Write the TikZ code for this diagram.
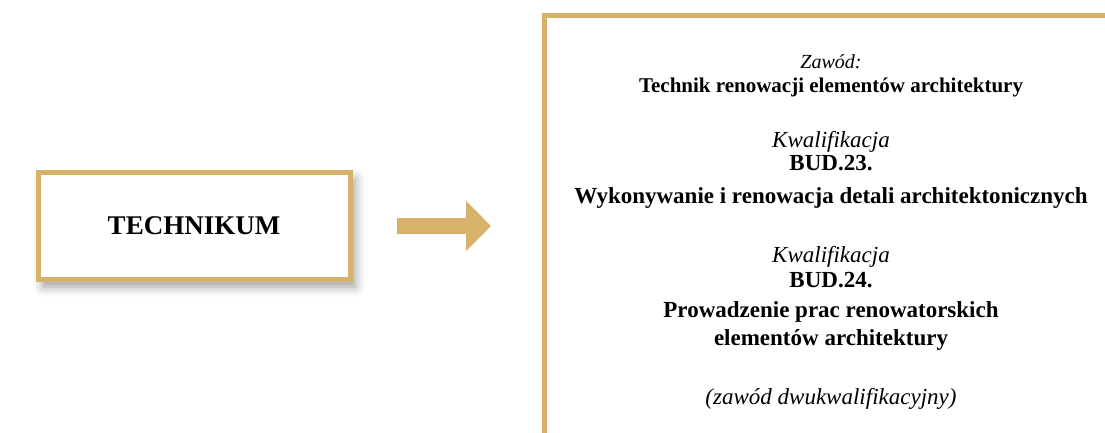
\documentclass[tikz,border=0pt]{standalone}
\usepackage{fontspec}
\setmainfont{Liberation Serif}
\usetikzlibrary{positioning,arrows.meta,shadows.blur}
\definecolor{zloty}{RGB}{214,178,106}
\tikzset{%
  ramka/.style={draw=zloty, line width=5pt},
  szkola/.style={ramka, fill=white, minimum width=312pt, minimum height=107pt,
    font=\fontsize{27}{32}\selectfont\bfseries,
    blur shadow={shadow xshift=5pt, shadow yshift=-7pt, shadow blur radius=10pt, shadow opacity=40}},
  strzalka/.style={draw=zloty, line width=16pt, -{Triangle[length=25pt, width=49pt]}},
  maleit/.style={anchor=base, inner sep=0pt, font=\fontsize{20}{24}\selectfont\itshape},
  malebf/.style={anchor=base, inner sep=0pt, font=\fontsize{21}{25}\selectfont\bfseries},
  duzeit/.style={anchor=base, inner sep=0pt, font=\fontsize{23}{27}\selectfont\itshape},
  duzebf/.style={anchor=base, inner sep=0pt, font=\fontsize{23}{27}\selectfont\bfseries}
}

\begin{document}
\begin{tikzpicture}[x=1pt, y=-1pt]
  \useasboundingbox (0,0) rectangle (1105,432);

  % ramka po prawej (ucieta przez brzeg strony)
  \draw [ramka] (544.5,15) rectangle (1130,470);

  \node [szkola] (technikum) at (194,226) {TECHNIKUM};

  \coordinate (arrS) at (397,226);
  \coordinate (arrE) at (491,226);
  \draw [strzalka] (arrS) -- (arrE);

% kolejne wiersze opisu
\foreach \y / \styl / \txt [count=\n] in {
    68/maleit/{Zaw\'od:},
    92/malebf/{Technik renowacji element\'ow architektury},
    147/duzeit/{Kwalifikacja},
    170/duzebf/{BUD.23.},
    203/duzebf/{Wykonywanie i renowacja detali architektonicznych},
    262/duzeit/{Kwalifikacja},
    287/duzebf/{BUD.24.},
    317/duzebf/{Prowadzenie prac renowatorskich},
    345/duzebf/{element\'ow architektury},
    404/duzeit/{(zaw\'od dwukwalifikacyjny)}}{
  \node [\styl] (wiersz\n) at (831,\y) {\txt};
}

\end{tikzpicture}
\end{document}
